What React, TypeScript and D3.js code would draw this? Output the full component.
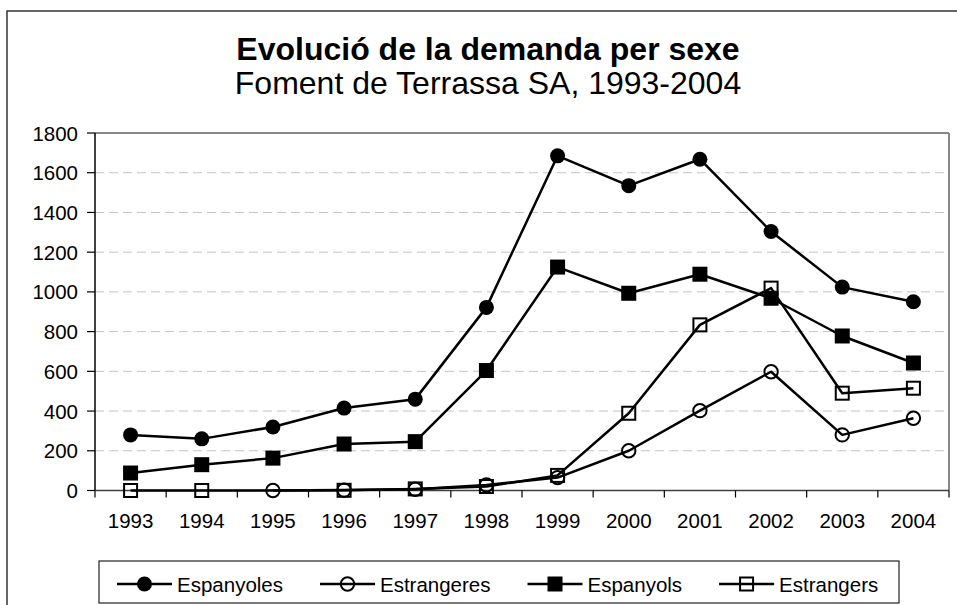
import React, { useEffect, useRef } from "react";
import * as d3 from "d3";

const years = ["1993","1994","1995","1996","1997","1998","1999","2000","2001","2002","2003","2004"];
const espanyoles: (number|null)[] = [280, 260, 320, 415, 460, 922, 1685, 1535, 1668, 1304, 1024, 950];
const estrangeres: (number|null)[] = [null, null, 0, 2, 6, 28, 65, 200, 402, 598, 280, 364];
const espanyols: (number|null)[] = [88, 130, 163, 234, 246, 604, 1125, 993, 1089, 968, 778, 642];
const estrangers: (number|null)[] = [0, 0, null, 1, 8, 20, 76, 389, 834, 1019, 490, 515];
const yTicks = [0, 200, 400, 600, 800, 1000, 1200, 1400, 1600, 1800];
const seriesNames = ["Espanyoles", "Estrangeres", "Espanyols", "Estrangers"];
const seriesMarkers = ["circleFilled", "circleOpen", "squareFilled", "squareOpen"];
const titleText = "Evolució de la demanda per sexe";
const subtitleText = "Foment de Terrassa SA, 1993-2004";

const W = 957, H = 605;
const FONT = "'Liberation Sans', Arial, sans-serif";

export default function App() {
  const ref = useRef<SVGSVGElement>(null);
  useEffect(() => {
    const svg = d3.select(ref.current);
    svg.selectAll("*").remove();
    const left = 95, right = 949, top = 133, bottom = 490.5;
    const x = d3.scaleBand<string>().domain(years).range([left, right]).padding(0);
    const y = d3.scaleLinear().domain([0, 1800]).range([bottom, top]);
    const cx = (yr: string) => (x(yr) as number) + x.bandwidth() / 2;

    svg.append("rect").attr("width", W).attr("height", H).attr("fill", "#fff");
    // outer chart border
    svg.append("rect").attr("x", 7).attr("y", 11).attr("width", 963).attr("height", 620)
      .attr("fill", "none").attr("stroke", "#333").attr("stroke-width", 1.5);

    svg.append("text").attr("x", 488).attr("y", 60).attr("text-anchor", "middle")
      .attr("font-family", FONT).attr("font-size", 32).attr("font-weight", "bold").text(titleText);
    svg.append("text").attr("x", 488).attr("y", 94).attr("text-anchor", "middle")
      .attr("font-family", FONT).attr("font-size", 32).text(subtitleText);

    // gridlines
    svg.append("g").selectAll("line").data(yTicks.filter(t => t > 0 && t < 1800)).join("line")
      .attr("x1", left).attr("x2", right).attr("y1", d => y(d)).attr("y2", d => y(d))
      .attr("stroke", "#c4c4c4").attr("stroke-width", 1).attr("stroke-dasharray", "9,5");

    // plot border top/right
    svg.append("line").attr("x1", left).attr("x2", right).attr("y1", top).attr("y2", top)
      .attr("stroke", "#888").attr("stroke-width", 2);
    svg.append("line").attr("x1", right).attr("x2", right).attr("y1", top).attr("y2", bottom)
      .attr("stroke", "#888").attr("stroke-width", 2);

    // y axis
    svg.append("line").attr("x1", left).attr("x2", left).attr("y1", top).attr("y2", bottom)
      .attr("stroke", "#000").attr("stroke-width", 1.5);
    svg.append("g").selectAll("line").data(yTicks).join("line")
      .attr("x1", left - 8).attr("x2", left).attr("y1", d => y(d)).attr("y2", d => y(d))
      .attr("stroke", "#000").attr("stroke-width", 1.2);
    svg.append("g").selectAll("text").data(yTicks).join("text")
      .attr("x", 78).attr("y", d => y(d) + 7.5).attr("text-anchor", "end")
      .attr("font-family", FONT).attr("font-size", 20.5).text(d => String(d));

    // x axis
    svg.append("line").attr("x1", left).attr("x2", right).attr("y1", bottom).attr("y2", bottom)
      .attr("stroke", "#404040").attr("stroke-width", 1.5);
    const bounds = years.map(yr => x(yr) as number).concat([right]);
    svg.append("g").selectAll("line").data(bounds).join("line")
      .attr("x1", d => d).attr("x2", d => d).attr("y1", bottom).attr("y2", bottom + 7)
      .attr("stroke", "#000").attr("stroke-width", 1.2);
    svg.append("g").selectAll("text").data(years).join("text")
      .attr("x", d => cx(d)).attr("y", 528).attr("text-anchor", "middle")
      .attr("font-family", FONT).attr("font-size", 20.5).text(d => d);

    const drawMarker = (g: any, kind: string, px: number, py: number) => {
      if (kind === "circleFilled") {
        g.append("circle").attr("cx", px).attr("cy", py).attr("r", 7.5).attr("fill", "#000");
      } else if (kind === "circleOpen") {
        g.append("circle").attr("cx", px).attr("cy", py).attr("r", 6.7).attr("fill", "none")
          .attr("stroke", "#000").attr("stroke-width", 2);
      } else if (kind === "squareFilled") {
        g.append("rect").attr("x", px - 7.5).attr("y", py - 7.5).attr("width", 15).attr("height", 15).attr("fill", "#000");
      } else {
        g.append("rect").attr("x", px - 6.5).attr("y", py - 6.5).attr("width", 13).attr("height", 13)
          .attr("fill", "none").attr("stroke", "#000").attr("stroke-width", 2);
      }
    };

    const allSeries = [espanyoles, estrangeres, espanyols, estrangers];
    const line = d3.line<[string, number]>().x(d => cx(d[0])).y(d => y(d[1]));
    allSeries.forEach((vals, i) => {
      const pts: [string, number][] = [];
      vals.forEach((v, j) => { if (v !== null) pts.push([years[j], v]); });
      const g = svg.append("g");
      g.append("path").attr("d", line(pts)).attr("fill", "none").attr("stroke", "#000")
        .attr("stroke-width", 2.5).attr("stroke-linejoin", "round");
      pts.forEach(p => drawMarker(g, seriesMarkers[i], cx(p[0]), y(p[1])));
    });

    // legend
    const lg = svg.append("g");
    lg.append("rect").attr("x", 99).attr("y", 561).attr("width", 800).attr("height", 42)
      .attr("fill", "#fff").attr("stroke", "#222").attr("stroke-width", 1.2);
    const canvas = document.createElement("canvas");
    const ctx = canvas.getContext("2d") as CanvasRenderingContext2D;
    ctx.font = `20.5px ${FONT}`;
    let lx = 117;
    const ly = 584;
    seriesNames.forEach((name, i) => {
      lg.append("line").attr("x1", lx).attr("x2", lx + 55).attr("y1", ly).attr("y2", ly)
        .attr("stroke", "#000").attr("stroke-width", 2.5);
      drawMarker(lg, seriesMarkers[i], lx + 27.5, ly);
      lg.append("text").attr("x", lx + 60).attr("y", ly + 7.5).attr("font-family", FONT)
        .attr("font-size", 20.5).text(name);
      lx += 60 + ctx.measureText(name).width + 37;
    });
  }, []);
  return (
    <div style={{ position: "fixed", left: 0, top: 0 }}>
      <svg ref={ref} width={W} height={H} style={{ display: "block" }} />
    </div>
  );
}
